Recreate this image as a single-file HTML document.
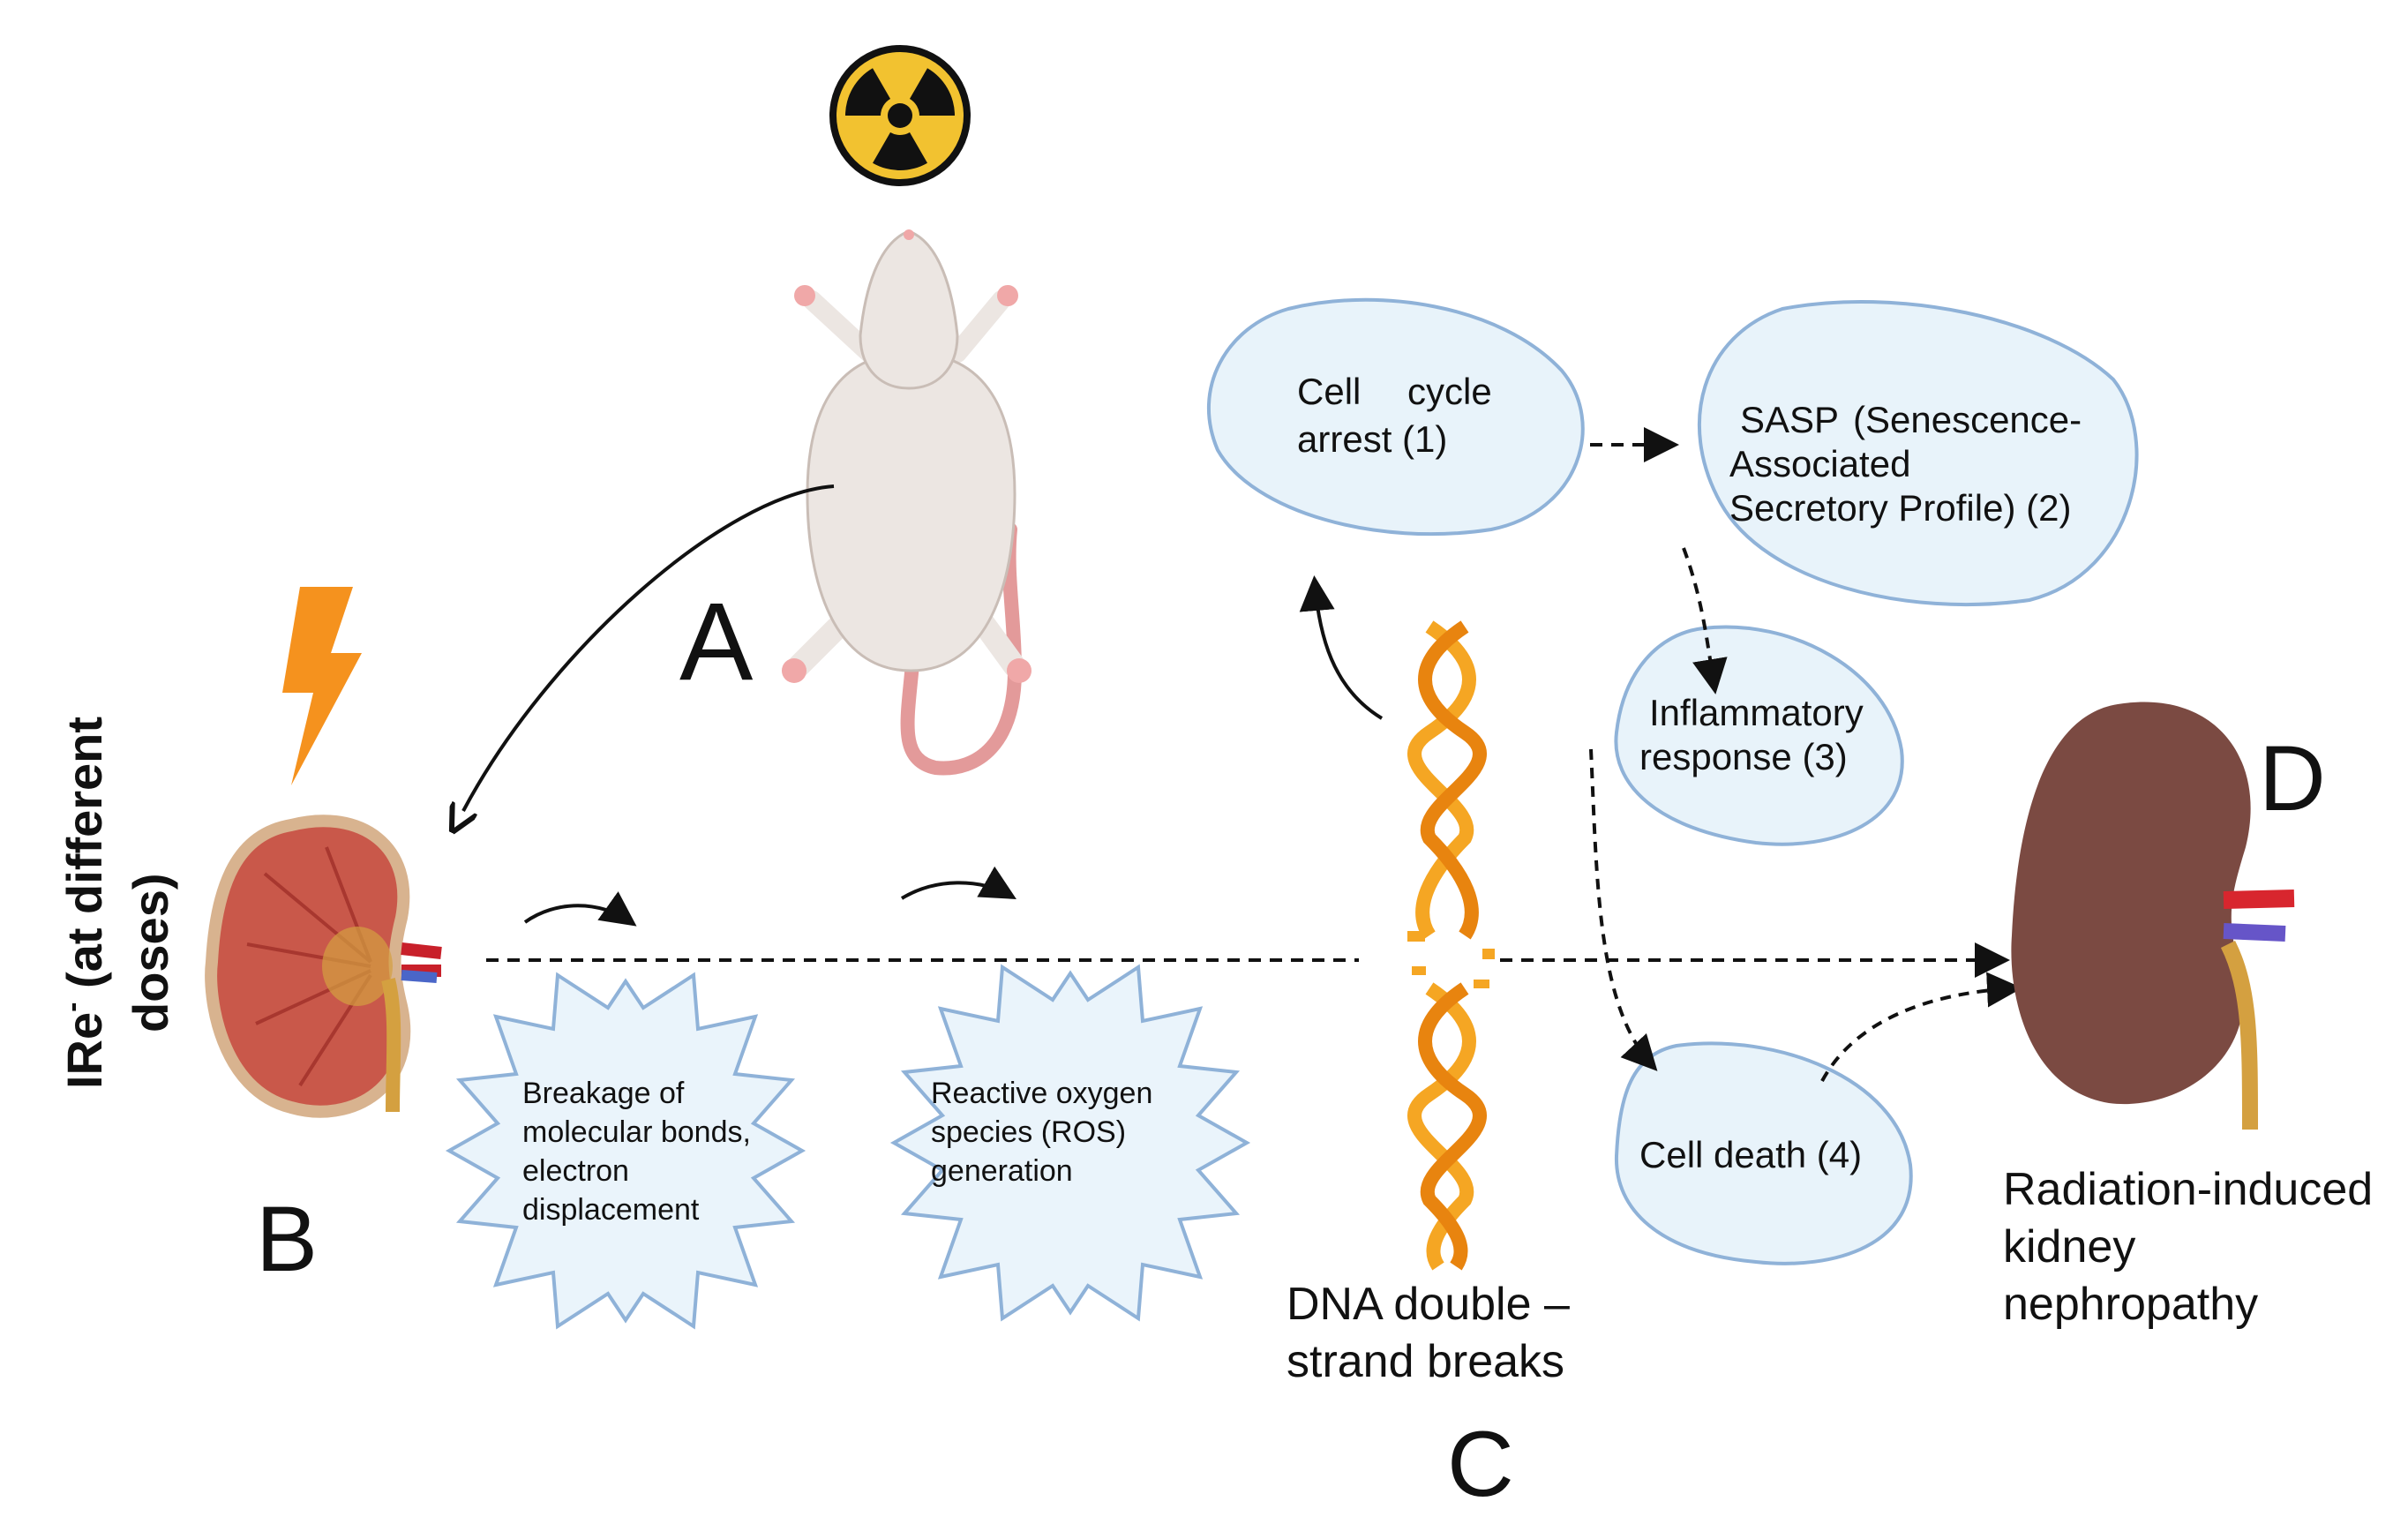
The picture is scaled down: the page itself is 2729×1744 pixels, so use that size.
<!DOCTYPE html>
<html><head><meta charset="utf-8"><style>
html,body{margin:0;padding:0;background:#fff}
svg{display:block}
text{font-family:"Liberation Sans",sans-serif;fill:#111}
</style></head><body>
<svg width="2729" height="1744" viewBox="0 0 2729 1744" xmlns="http://www.w3.org/2000/svg">
<defs>
<marker id="ah" markerWidth="10" markerHeight="10" refX="8" refY="5" orient="auto" markerUnits="strokeWidth"><path d="M0,0 L10,5 L0,10 z" fill="#111"/></marker>
<marker id="ao" markerWidth="8" markerHeight="8" refX="1" refY="4" orient="auto" markerUnits="strokeWidth"><path d="M0,0 L8,4 L0,8" fill="none" stroke="#111" stroke-width="1.5"/></marker>
</defs>

<!-- radiation symbol -->
<circle cx="1020" cy="131" r="80" fill="#111"/>
<circle cx="1020" cy="131" r="72" fill="#f2c230"/>
<g fill="#111">
<path id="bl" d="M1031,150 L1051,184.7 A62,62 0 0 1 989,184.7 L1009,150 A22,22 0 0 0 1031,150 Z"/>
<path d="M1031,150 L1051,184.7 A62,62 0 0 1 989,184.7 L1009,150 A22,22 0 0 0 1031,150 Z" transform="rotate(120 1020 131)"/>
<path d="M1031,150 L1051,184.7 A62,62 0 0 1 989,184.7 L1009,150 A22,22 0 0 0 1031,150 Z" transform="rotate(240 1020 131)"/>
</g>
<circle cx="1020" cy="131" r="14" fill="#111"/>

<!-- rat -->
<path d="M1035,740 C1030,810 1015,860 1060,870 C1110,875 1150,840 1150,760 C1150,700 1140,650 1145,600" fill="none" stroke="#e39a9a" stroke-width="16" stroke-linecap="round"/>
<path d="M985,400 L920,340 M1085,400 L1135,340" stroke="#ece6e2" stroke-width="22" stroke-linecap="round"/>
<path d="M960,700 L905,755 M1110,700 L1150,755" stroke="#ece6e2" stroke-width="26" stroke-linecap="round"/>
<path d="M1032,400 C1120,400 1150,470 1150,560 C1150,660 1120,760 1032,760 C945,760 915,660 915,560 C915,470 945,400 1032,400 Z" fill="#ece6e2" stroke="#c9bdb6" stroke-width="3"/>
<path d="M1030,262 C1065,275 1080,330 1085,380 C1085,420 1060,440 1030,440 C1000,440 975,420 975,380 C980,330 995,275 1030,262 Z" fill="#ece6e2" stroke="#c9bdb6" stroke-width="3"/>
<circle cx="1030" cy="266" r="6" fill="#f0a8a8"/>
<circle cx="912" cy="335" r="12" fill="#f0a8a8"/><circle cx="1142" cy="335" r="12" fill="#f0a8a8"/>
<circle cx="900" cy="760" r="14" fill="#f0a8a8"/><circle cx="1155" cy="760" r="14" fill="#f0a8a8"/>

<text x="770" y="770" font-size="125">A</text>
<path d="M945,551 C820,560 620,740 525,919" fill="none" stroke="#111" stroke-width="4" marker-end="url(#ao)"/>

<!-- lightning -->
<path d="M340,665 L400,665 L375,740 L410,740 L330,890 L355,785 L320,785 Z" fill="#f5921e"/>

<!-- vertical label -->
<text transform="translate(115,1234) rotate(-90)" font-size="56" font-weight="bold">IRe<tspan font-size="34" dy="-22">-</tspan><tspan dy="22"> (at different</tspan></text>
<text transform="translate(190,1170) rotate(-90)" font-size="56" font-weight="bold">doses)</text>

<!-- kidney B -->
<path d="M330,935 C410,915 470,960 455,1040 C445,1080 445,1100 455,1140 C475,1230 400,1275 330,1255 C250,1235 235,1130 240,1090 C245,1000 270,945 330,935 Z" fill="#c9584a" stroke="#d8b38f" stroke-width="14"/>
<g stroke="#a8372f" stroke-width="4" fill="none">
<path d="M420,1090 L300,990 M420,1095 L280,1070 M420,1100 L290,1160 M420,1105 L340,1230 M420,1090 L370,960"/>
</g>
<ellipse cx="405" cy="1095" rx="40" ry="45" fill="#d4a040" opacity="0.7"/>
<path d="M455,1075 L500,1080 M455,1100 L500,1100" stroke="#c8202a" stroke-width="14"/>
<path d="M455,1105 L495,1108" stroke="#4a66c8" stroke-width="12"/>
<path d="M440,1110 C450,1150 445,1200 445,1260" stroke="#d4a040" stroke-width="16" fill="none"/>
<text x="290" y="1440" font-size="105">B</text>

<!-- dashed main line -->
<line x1="551" y1="1088" x2="1540" y2="1088" stroke="#111" stroke-width="4" stroke-dasharray="14,10"/>
<line x1="1700" y1="1088" x2="2270" y2="1088" stroke="#111" stroke-width="4" stroke-dasharray="14,10" marker-end="url(#ah)"/>
<path d="M595,1045 C630,1020 680,1020 715,1045" fill="none" stroke="#111" stroke-width="4" marker-end="url(#ah)"/>
<path d="M1022,1018 C1060,995 1110,995 1145,1015" fill="none" stroke="#111" stroke-width="4" marker-end="url(#ah)"/>

<!-- starbursts -->
<polygon fill="#eaf4fb" stroke="#8fb2d8" stroke-width="4" points="
909,1304 854,1335 897,1384 833,1391 856,1456 791,1442 786,1503 729,1466 709,1496 689,1466 632,1503 627,1442 562,1456 585,1391 521,1384 564,1335 509,1304 564,1273 521,1224 585,1217 562,1152 627,1166 632,1105 689,1142 709,1112 729,1142 786,1105 791,1166 856,1152 833,1217 897,1224 854,1273"/>
<polygon fill="#eaf4fb" stroke="#8fb2d8" stroke-width="4" points="
1413,1295 1358,1326 1401,1375 1337,1382 1360,1447 1295,1433 1290,1494 1233,1457 1213,1487 1193,1457 1136,1494 1131,1433 1066,1447 1089,1382 1025,1375 1068,1326 1013,1295 1068,1264 1025,1215 1089,1208 1066,1143 1131,1157 1136,1096 1193,1133 1213,1103 1233,1133 1290,1096 1295,1157 1360,1143 1337,1208 1401,1215 1358,1264"/>
<g font-size="34">
<text x="592" y="1250">Breakage of</text>
<text x="592" y="1294">molecular bonds,</text>
<text x="592" y="1338">electron</text>
<text x="592" y="1382">displacement</text>
<text x="1055" y="1250">Reactive oxygen</text>
<text x="1055" y="1294">species (ROS)</text>
<text x="1055" y="1338">generation</text>
</g>

<!-- DNA -->
<g fill="none" stroke-width="16">
<path d="M1620,710 C1680,750 1680,790 1620,830 C1560,870 1680,910 1660,950 C1620,990 1600,1030 1620,1060" stroke="#f5a623"/>
<path d="M1660,710 C1600,750 1600,790 1660,830 C1720,870 1600,910 1620,950 C1660,990 1680,1030 1660,1060" stroke="#e8840f"/>
<path d="M1620,1120 C1680,1160 1680,1200 1620,1240 C1560,1280 1680,1320 1660,1360 C1620,1400 1620,1420 1630,1435" stroke="#f5a623"/>
<path d="M1660,1120 C1600,1160 1600,1200 1660,1240 C1720,1280 1600,1320 1620,1360 C1660,1400 1660,1420 1650,1435" stroke="#e8840f"/>
</g>
<g fill="#f5a623"><rect x="1595" y="1055" width="20" height="12"/><rect x="1680" y="1075" width="14" height="12"/><rect x="1600" y="1095" width="16" height="10"/><rect x="1670" y="1110" width="18" height="10"/></g>
<text x="1458" y="1495" font-size="52">DNA double –</text>
<text x="1458" y="1560" font-size="52">strand breaks</text>
<text x="1640" y="1695" font-size="105">C</text>

<path d="M1566,814 C1510,780 1495,720 1490,660" fill="none" stroke="#111" stroke-width="4" marker-end="url(#ah)"/>

<!-- blobs -->
<g fill="#e8f3fa" stroke="#8fb2d8" stroke-width="4">
<path d="M1460,350 C1560,325 1700,345 1770,420 C1820,480 1790,580 1690,600 C1560,620 1420,580 1380,510 C1350,440 1390,370 1460,350 Z"/>
<path d="M2020,350 C2150,325 2320,360 2395,430 C2450,500 2420,650 2300,680 C2160,700 2000,660 1950,570 C1900,480 1930,380 2020,350 Z"/>
<path d="M1930,712 C2030,700 2140,760 2155,850 C2165,930 2080,965 1990,955 C1880,940 1825,890 1832,830 C1840,760 1880,718 1930,712 Z"/>
<path d="M1900,1185 C2010,1170 2150,1220 2165,1320 C2175,1410 2080,1440 1990,1430 C1880,1420 1830,1370 1832,1310 C1835,1240 1850,1195 1900,1185 Z"/>
</g>
<g font-size="42">
<text x="1470" y="458">Cell</text><text x="1595" y="458">cycle</text>
<text x="1470" y="512">arrest (1)</text>
<text x="1972" y="490">SASP</text><text x="2100" y="490">(Senescence-</text>
<text x="1960" y="540">Associated</text>
<text x="1960" y="590">Secretory Profile) (2)</text>
<text x="1869" y="822">Inflammatory</text>
<text x="1858" y="872">response (3)</text>
<text x="1858" y="1323">Cell death (4)</text>
</g>

<line x1="1802" y1="504" x2="1895" y2="504" stroke="#111" stroke-width="4" stroke-dasharray="14,10" marker-end="url(#ah)"/>
<path d="M1908,621 C1930,680 1935,730 1943,779" fill="none" stroke="#111" stroke-width="4" stroke-dasharray="12,9" marker-end="url(#ah)"/>
<path d="M1803,849 C1810,1000 1810,1140 1873,1208" fill="none" stroke="#111" stroke-width="4" stroke-dasharray="12,9" marker-end="url(#ah)"/>
<path d="M2065,1225 C2100,1160 2180,1125 2284,1120" fill="none" stroke="#111" stroke-width="4" stroke-dasharray="12,9" marker-end="url(#ah)"/>

<!-- kidney D -->
<path d="M2400,798 C2510,780 2570,860 2545,960 C2530,1010 2520,1040 2540,1100 C2560,1200 2470,1260 2390,1250 C2300,1235 2275,1130 2280,1060 C2285,950 2310,812 2400,798 Z" fill="#7b4a42"/>
<path d="M2520,1020 L2600,1018" stroke="#d8262e" stroke-width="20"/>
<path d="M2520,1055 L2590,1058" stroke="#6655c8" stroke-width="18"/>
<path d="M2525,1070 C2550,1120 2550,1180 2550,1280" stroke="#d4a040" stroke-width="18" fill="none"/>
<text x="2560" y="918" font-size="105">D</text>
<text x="2270" y="1365" font-size="52">Radiation-induced</text>
<text x="2270" y="1430" font-size="52">kidney</text>
<text x="2270" y="1495" font-size="52">nephropathy</text>
</svg>
</body></html>
